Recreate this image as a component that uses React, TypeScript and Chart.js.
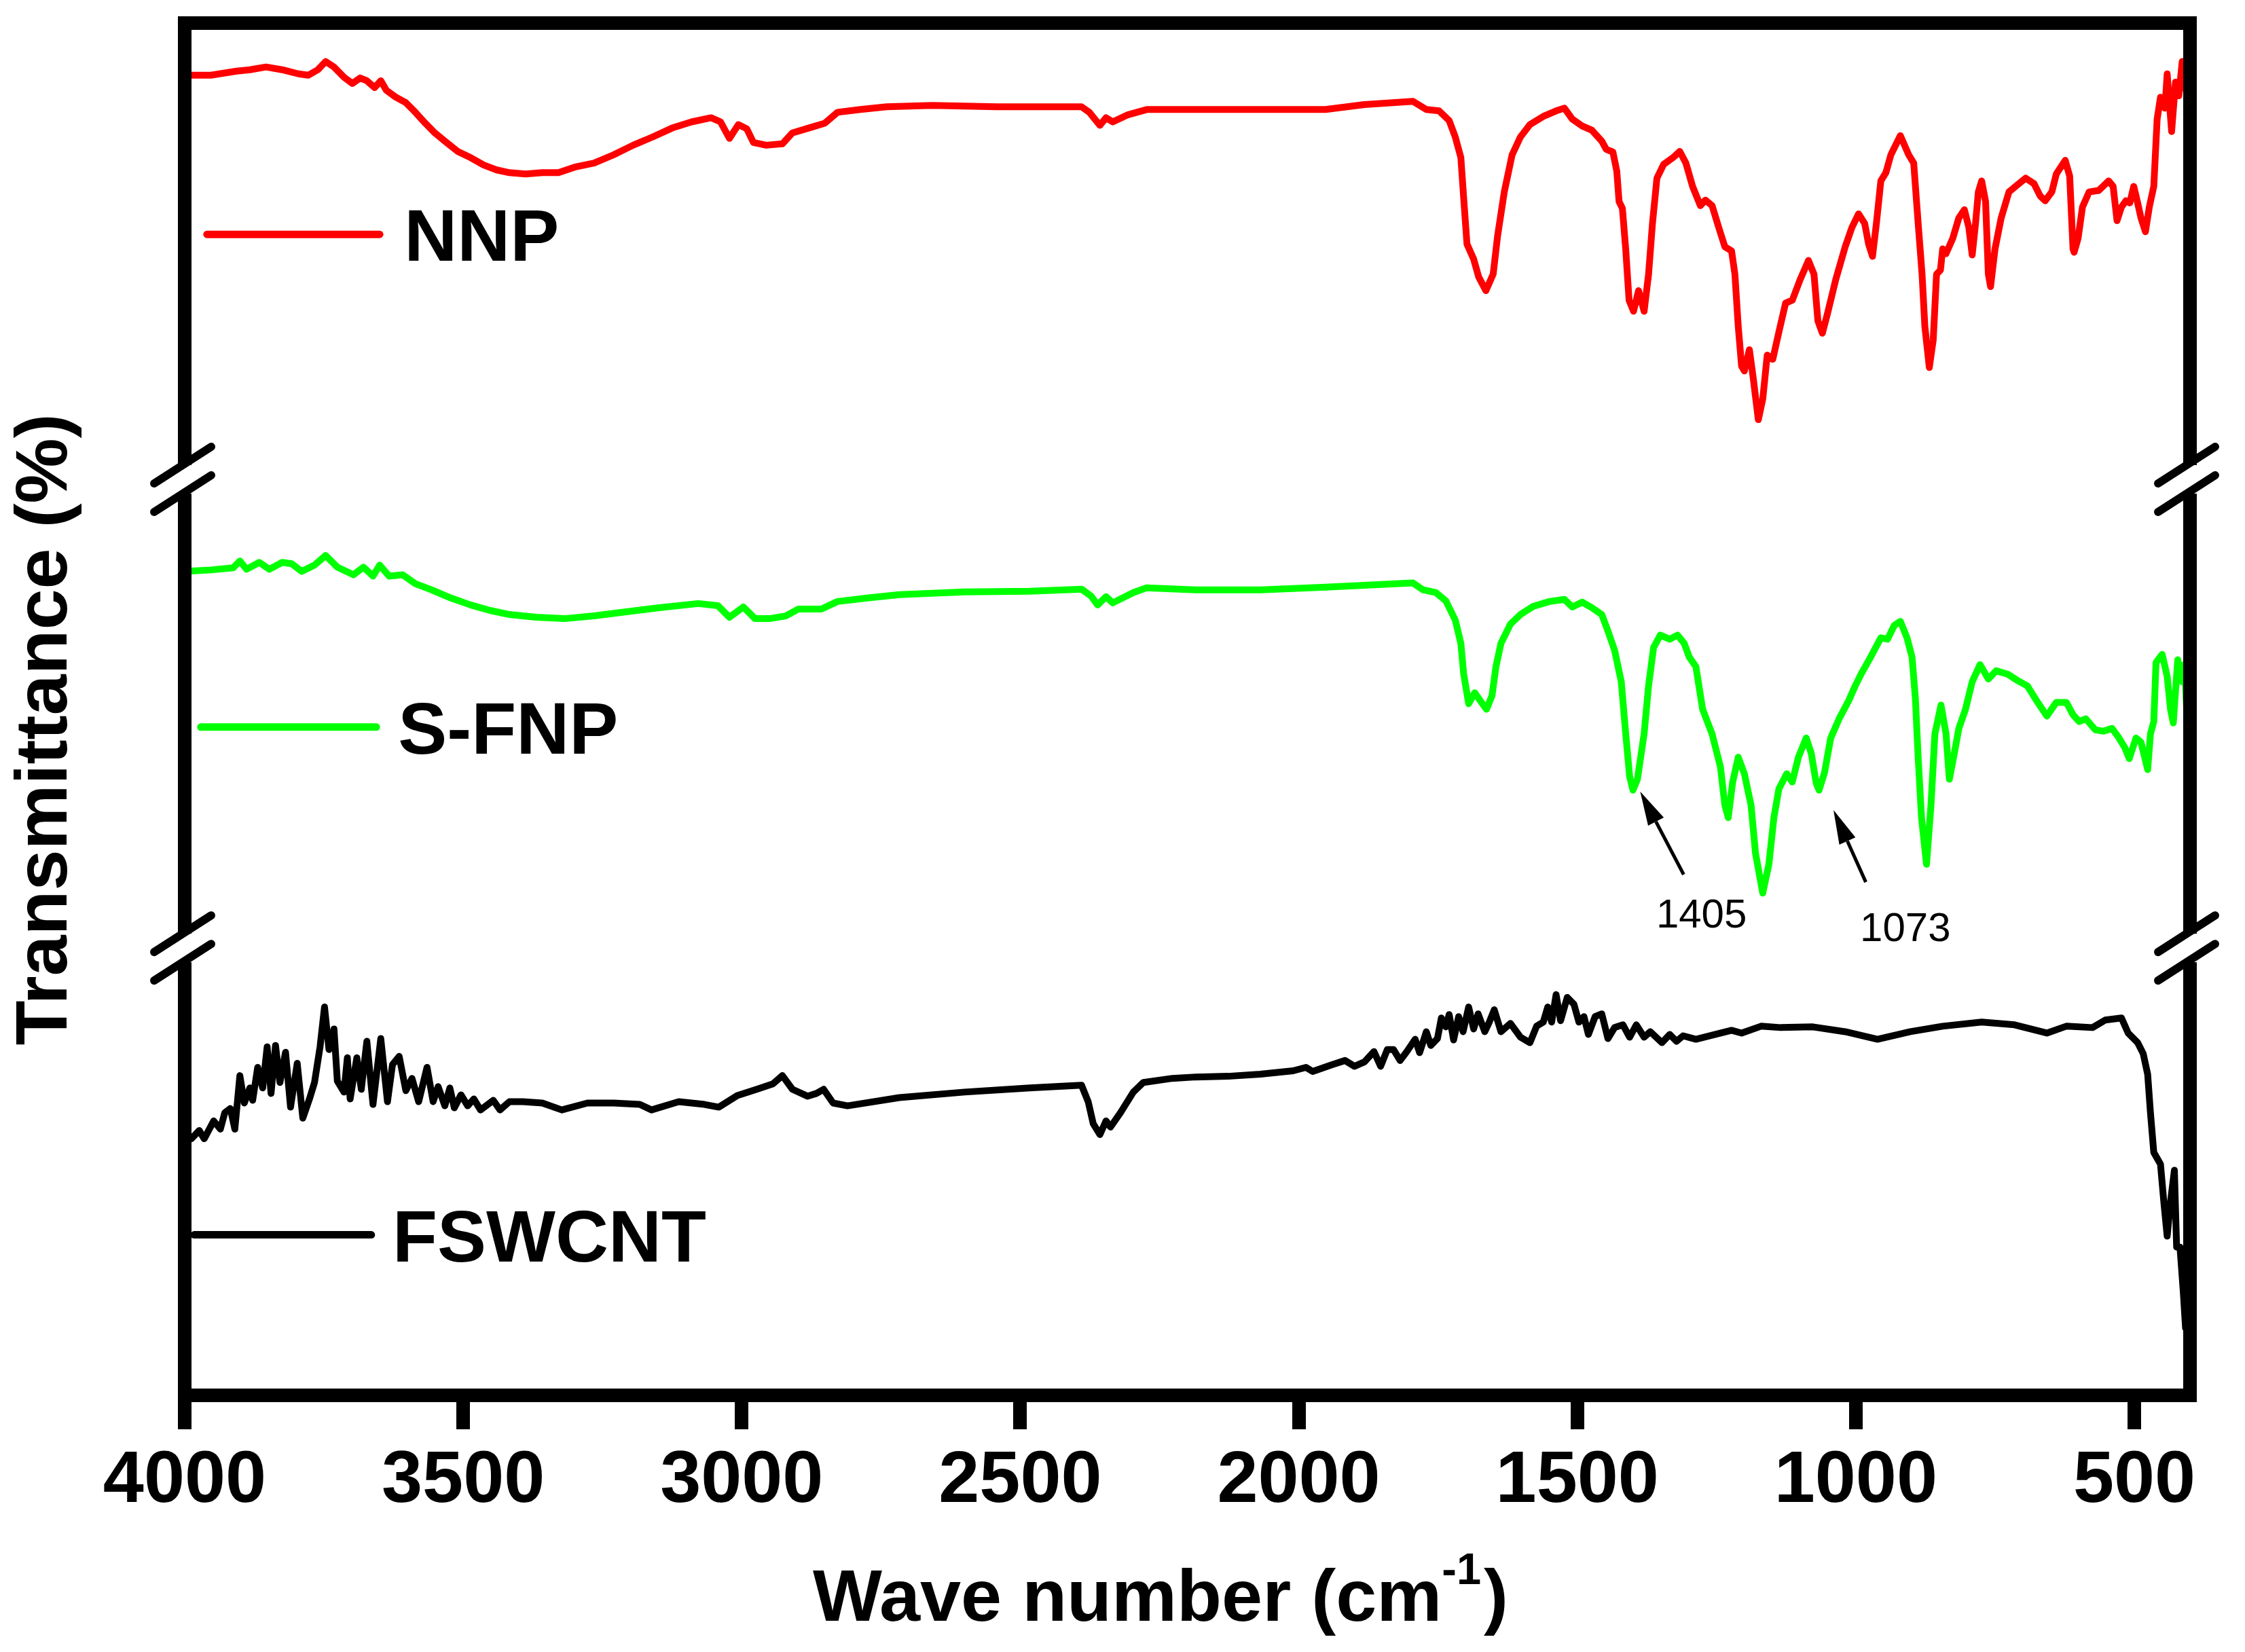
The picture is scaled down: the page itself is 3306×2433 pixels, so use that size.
import { useRef, useEffect } from 'react'
import { Chart, registerables } from 'chart.js'
Chart.register(...registerables)

// wavenumber axis (cm-1), drawn right to left
const X_MIN = 400
const X_MAX = 4000
const X_TICKS = [500, 1000, 1500, 2000, 2500, 3000, 3500, 4000]

// stacked transmittance, arbitrary offset units (0 = bottom of frame, 100 = top)
const nnpWn = [
  4000, 3953, 3907, 3883, 3854, 3825, 3796, 3778, 3761, 3747, 3732, 3714, 3699, 3685, 3673, 3659, 3648, 3638, 3621, 3603,
  3586, 3568, 3551, 3533, 3510, 3487, 3463, 3440, 3417, 3388, 3358, 3329, 3300, 3265, 3230, 3195, 3160, 3125, 3090, 3055,
  3038, 3022, 3006, 2991, 2979, 2956, 2927, 2909, 2880, 2851, 2828, 2787, 2740, 2658, 2542, 2390, 2376, 2357, 2346, 2334,
  2308, 2273, 2227, 2185, 1952, 1882, 1795, 1771, 1748, 1730, 1719, 1709, 1704, 1698, 1686, 1677, 1664, 1651, 1643, 1631,
  1617, 1602, 1585, 1561, 1538, 1523, 1509, 1491, 1474, 1456, 1448, 1436, 1429, 1425, 1419, 1413, 1407, 1399, 1390, 1380,
  1372, 1365, 1357, 1345, 1328, 1316, 1305, 1293, 1279, 1270, 1258, 1246, 1235, 1223, 1217, 1211, 1205, 1200, 1191, 1184,
  1175, 1167, 1159, 1149, 1138, 1126, 1114, 1100, 1085, 1075, 1068, 1060, 1051, 1036, 1019, 1007, 995, 984, 977, 970,
  963, 955, 946, 937, 920, 905, 896, 888, 881, 876, 868, 861, 855, 848, 844, 838, 826, 815, 805, 797,
  791, 785, 780, 774, 767, 762, 758, 750, 739, 725, 710, 695, 680, 669, 660, 648, 640, 624, 616, 610,
  608, 601, 593, 581, 564, 546, 538, 531, 523, 515, 508, 501, 494, 488, 480, 473, 465, 459, 453, 445,
  441, 433, 426, 420, 414, 406, 402,
]
const nnpT = [
  96.2, 96.2, 96.5, 96.6, 96.8, 96.6, 96.3, 96.2, 96.6, 97.2, 96.8, 96.05, 95.6, 96.0, 95.8, 95.3, 95.8, 95.1, 94.6, 94.2,
  93.5, 92.7, 92.0, 91.4, 90.65, 90.2, 89.65, 89.3, 89.1, 89.0, 89.1, 89.1, 89.5, 89.8, 90.4, 91.1, 91.7, 92.35, 92.8, 93.1,
  92.8, 91.6, 92.6, 92.3, 91.3, 91.1, 91.2, 92.0, 92.35, 92.7, 93.5, 93.7, 93.9, 94.0, 93.9, 93.9, 93.5, 92.55, 93.1, 92.8,
  93.3, 93.7, 93.7, 93.7, 93.7, 94.06, 94.3, 93.7, 93.6, 92.9, 91.7, 90.2, 87.3, 83.9, 82.8, 81.5, 80.5, 81.7, 84.5, 87.7,
  90.4, 91.7, 92.6, 93.2, 93.6, 93.8, 93.0, 92.5, 92.2, 91.4, 90.8, 90.6, 89.2, 87.0, 86.5, 83.5, 79.8, 79.0, 80.5, 79.0,
  81.7, 85.4, 88.7, 89.7, 90.2, 90.65, 89.8, 88.1, 86.7, 87.1, 86.7, 85.1, 83.7, 83.4, 81.7, 77.9, 75.0, 74.65, 76.2, 74.1,
  71.1, 72.6, 75.8, 75.5, 77.5, 79.6, 79.8, 81.3, 82.7, 81.7, 78.3, 77.4, 78.8, 81.3, 83.7, 85.1, 86.1, 85.4, 83.9, 83.0,
  85.4, 88.5, 89.1, 90.4, 91.8, 90.4, 89.8, 85.4, 81.7, 77.9, 74.9, 76.9, 81.7, 82.0, 83.55, 83.2, 84.3, 85.8, 86.4, 85.1,
  83.1, 85.4, 87.7, 88.5, 87.0, 81.7, 80.8, 83.55, 85.8, 87.7, 88.2, 88.7, 88.3, 87.4, 87.05, 87.7, 89.0, 90.0, 88.85, 83.55,
  83.3, 84.3, 86.6, 87.7, 87.8, 88.5, 88.1, 85.6, 86.6, 87.05, 86.9, 88.1, 86.9, 85.8, 84.8, 86.6, 88.1, 93.0, 94.6, 93.8,
  96.3, 92.1, 95.7, 94.7, 97.2, 94.9, 96.0,
]

const sfnpWn = [
  4000, 3953, 3913, 3901, 3889, 3866, 3848, 3825, 3808, 3790, 3767, 3747, 3726, 3697, 3679, 3662, 3650, 3633, 3609, 3586,
  3557, 3522, 3487, 3452, 3417, 3370, 3318, 3265, 3207, 3148, 3078, 3043, 3022, 2997, 2976, 2950, 2921, 2898, 2857, 2828,
  2775, 2717, 2600, 2483, 2390, 2373, 2361, 2346, 2334, 2297, 2273, 2185, 2069, 1952, 1870, 1795, 1777, 1754, 1736, 1719,
  1709, 1704, 1695, 1684, 1672, 1663, 1653, 1646, 1637, 1620, 1602, 1579, 1550, 1523, 1509, 1491, 1474, 1456, 1445, 1433,
  1421, 1413, 1406, 1400, 1392, 1380, 1372, 1363, 1351, 1334, 1320, 1308, 1299, 1287, 1275, 1258, 1243, 1235, 1229, 1221,
  1211, 1200, 1188, 1180, 1167, 1156, 1147, 1138, 1124, 1114, 1103, 1089, 1080, 1071, 1066, 1056, 1045, 1030, 1013, 1001,
  990, 972, 955, 943, 931, 920, 908, 899, 893, 888, 882, 873, 865, 858, 847, 838, 832, 823, 815, 803,
  791, 777, 762, 748, 727, 710, 692, 675, 657, 640, 622, 610, 599, 587, 570, 555, 540, 529, 517, 509,
  497, 488, 476, 471, 465, 461, 450, 441, 435, 430, 422, 414, 410, 404,
]
const sfnpT = [
  60.05, 60.15, 60.3, 60.8, 60.2, 60.7, 60.2, 60.7, 60.6, 60.05, 60.5, 61.2, 60.35, 59.8, 60.35, 59.7, 60.5, 59.7, 59.8, 59.15,
  58.7, 58.1, 57.6, 57.2, 56.9, 56.7, 56.6, 56.8, 57.1, 57.4, 57.7, 57.55, 56.7, 57.45, 56.6, 56.6, 56.8, 57.3, 57.3, 57.85,
  58.1, 58.35, 58.55, 58.6, 58.75, 58.25, 57.6, 58.2, 57.75, 58.5, 58.85, 58.7, 58.7, 58.9, 59.05, 59.2, 58.7, 58.5, 57.9, 56.5,
  54.8, 52.6, 50.4, 51.2, 50.5, 50.0, 51.0, 53.1, 54.8, 56.2, 56.9, 57.5, 57.85, 58.0, 57.45, 57.8, 57.4, 56.9, 55.7, 54.3,
  52.0, 48.2, 45.1, 44.1, 44.9, 48.2, 51.7, 54.5, 55.4, 55.1, 55.4, 54.8, 53.8, 53.1, 50.0, 48.2, 45.8, 43.0, 42.1, 44.7,
  46.5, 45.3, 43.0, 39.5, 36.6, 38.7, 42.1, 44.2, 45.3, 44.7, 46.5, 47.9, 46.8, 44.6, 44.1, 45.4, 47.9, 49.3, 50.6, 51.7,
  52.6, 53.9, 55.2, 55.1, 56.1, 56.4, 55.2, 53.8, 50.8, 46.5, 42.1, 38.7, 43.0, 48.2, 50.3, 48.2, 44.9, 46.8, 48.6, 50.0,
  52.0, 53.25, 52.2, 52.8, 52.55, 52.1, 51.7, 50.6, 49.5, 50.5, 50.5, 49.6, 49.1, 49.3, 48.5, 48.4, 48.6, 48.0, 47.2, 46.4,
  47.9, 47.6, 45.6, 48.2, 49.1, 53.4, 54.0, 52.4, 50.0, 49.0, 53.6, 52.0, 53.25, 48.4,
]

const fswWn = [
  4000, 3988, 3974, 3965, 3948, 3936, 3928, 3918, 3910, 3901, 3893, 3883, 3878, 3869, 3860, 3852, 3845, 3837, 3829, 3819,
  3810, 3798, 3788, 3776, 3767, 3757, 3749, 3741, 3732, 3726, 3714, 3708, 3703, 3691, 3683, 3673, 3662, 3648, 3636, 3627,
  3615, 3603, 3592, 3580, 3565, 3554, 3545, 3533, 3524, 3516, 3504, 3492, 3481, 3469, 3446, 3434, 3417, 3393, 3358, 3323,
  3277, 3230, 3183, 3162, 3113, 3067, 3041, 3008, 2973, 2944, 2927, 2909, 2882, 2866, 2853, 2836, 2810, 2717, 2600, 2483,
  2390, 2378, 2369, 2357, 2346, 2338, 2320, 2297, 2279, 2227, 2185, 2127, 2069, 2010, 1987, 1975, 1940, 1917, 1900, 1882,
  1865, 1853, 1841, 1830, 1818, 1806, 1791, 1783, 1771, 1763, 1751, 1744, 1736, 1730, 1722, 1713, 1705, 1695, 1686, 1678,
  1666, 1658, 1649, 1637, 1620, 1602, 1585, 1573, 1561, 1553, 1546, 1538, 1530, 1518, 1506, 1497, 1488, 1480, 1468, 1456,
  1445, 1433, 1418, 1406, 1394, 1380, 1369, 1348, 1334, 1322, 1310, 1287, 1252, 1223, 1205, 1170, 1135, 1077, 1019, 961,
  902, 844, 774, 715, 657, 622, 575, 552, 523, 511, 494, 484, 476, 471, 465, 453, 447, 441, 435, 428,
  424, 418, 412, 408,
]
const fswT = [
  18.6, 18.7, 19.3, 18.7, 20.0, 19.4, 20.6, 20.9, 19.4, 23.3, 21.3, 22.4, 21.5, 23.9, 22.4, 25.4, 22.0, 25.5, 22.8, 25.0,
  21.0, 24.2, 20.2, 21.6, 22.8, 25.4, 28.3, 25.2, 26.7, 22.9, 22.1, 24.6, 21.6, 24.6, 22.3, 25.8, 21.2, 26.0, 21.4, 24.1,
  24.7, 22.2, 23.1, 21.4, 23.9, 21.4, 22.5, 21.1, 22.4, 20.95, 21.9, 21.1, 21.6, 20.8, 21.5, 20.8, 21.4, 21.4, 21.3, 20.8,
  21.3, 21.3, 21.2, 20.8, 21.4, 21.2, 21.0, 21.85, 22.3, 22.7, 23.3, 22.3, 21.8, 22.0, 22.3, 21.3, 21.1, 21.7, 22.1, 22.4,
  22.6, 21.4, 19.8, 19.0, 20.0, 19.55, 20.6, 22.1, 22.8, 23.1, 23.2, 23.25, 23.4, 23.65, 23.9, 23.6, 24.1, 24.4, 23.98, 24.3,
  25.05, 23.98, 25.2, 25.2, 24.4, 25.05, 25.95, 24.97, 26.5, 25.5, 26.0, 27.5, 26.85, 27.75, 25.9, 27.6, 26.5, 28.3, 26.7, 27.8,
  26.5, 27.2, 28.1, 26.5, 27.1, 26.1, 25.7, 26.9, 27.2, 28.3, 27.2, 29.2, 27.3, 29.0, 28.5, 27.2, 27.6, 26.3, 27.6, 27.8,
  26.0, 26.8, 27.0, 26.1, 27.0, 26.1, 26.5, 25.7, 26.3, 25.8, 26.2, 25.95, 26.3, 26.6, 26.4, 26.9, 26.8, 26.85, 26.5, 25.95,
  26.5, 26.9, 27.2, 27.0, 26.4, 26.9, 26.8, 27.35, 27.5, 26.4, 25.7, 24.9, 23.4, 20.6, 17.7, 16.85, 14.1, 11.6, 14.1, 16.4,
  10.8, 10.8, 7.5, 4.9,
]

const SERIES = [
  { name: 'NNP', color: '#ff0000', wn: nnpWn, t: nnpT },
  { name: 'S-FNP', color: '#00ff00', wn: sfnpWn, t: sfnpT },
  { name: 'FSWCNT', color: '#000000', wn: fswWn, t: fswT },
]

// inline legend: line from x0 to x1 (cm-1), label at xt, all at level y
const LEGEND = [
  { name: 'NNP', color: '#ff0000', x0: 3960, x1: 3650, xt: 3606, y: 84.6 },
  { name: 'S-FNP', color: '#00ff00', x0: 3971, x1: 3656, xt: 3617, y: 48.7 },
  { name: 'FSWCNT', color: '#000000', x0: 3983, x1: 3665, xt: 3627, y: 11.7 },
]

// peak callouts on S-FNP
const CALLOUTS = [
  { label: '1405', tip: [1387, 44.0], tail: [1309, 37.95], text: [1277, 34.1] },
  { label: '1073', tip: [1040, 42.65], tail: [982, 37.4], text: [911, 33.1] },
]

// axis breaks between the stacked spectra
const BREAKS = [66.75, 32.6]

const W = 3306
const H = 2433
const FONT = "'Liberation Sans', Arial, sans-serif"

const decorations = {
  id: 'decorations',
  afterDraw(chart: any) {
    const { ctx, chartArea: a } = chart
    const sx = chart.scales.x
    const sy = chart.scales.y
    const px = (v: number) => sx.getPixelForValue(v)
    const py = (v: number) => sy.getPixelForValue(v)
    ctx.save()

    // frame
    ctx.strokeStyle = '#000'
    ctx.lineWidth = 20
    ctx.lineJoin = 'miter'
    ctx.strokeRect(a.left, a.top, a.right - a.left, a.bottom - a.top)

    // breaks on both side axes
    for (const b of BREAKS) {
      const cy = py(b)
      for (const cx of [a.left - 3, a.right - 5]) {
        ctx.fillStyle = '#fff'
        ctx.fillRect(cx - 16, cy - 21, 32, 42)
        ctx.strokeStyle = '#000'
        ctx.lineWidth = 12
        ctx.lineCap = 'round'
        for (const off of [-21, 21]) {
          ctx.beginPath()
          ctx.moveTo(cx - 42, cy + off + 27)
          ctx.lineTo(cx + 42, cy + off - 27)
          ctx.stroke()
        }
      }
    }

    // legend
    ctx.font = `bold 108px ${FONT}`
    ctx.textAlign = 'left'
    ctx.textBaseline = 'alphabetic'
    for (const l of LEGEND) {
      const y = py(l.y)
      ctx.strokeStyle = l.color
      ctx.lineWidth = 11
      ctx.lineCap = 'round'
      ctx.beginPath()
      ctx.moveTo(px(l.x0), y)
      ctx.lineTo(px(l.x1), y)
      ctx.stroke()
      ctx.fillStyle = '#000'
      ctx.fillText(l.name, px(l.xt), y + 39)
    }

    // callouts
    for (const c of CALLOUTS) {
      const tx = px(c.tip[0]), ty = py(c.tip[1])
      const bx = px(c.tail[0]), by = py(c.tail[1])
      const ang = Math.atan2(ty - by, tx - bx)
      const len = 50, hw = 13
      const hx = tx - len * Math.cos(ang), hy = ty - len * Math.sin(ang)
      ctx.strokeStyle = '#000'
      ctx.lineWidth = 5
      ctx.lineCap = 'butt'
      ctx.beginPath()
      ctx.moveTo(bx, by)
      ctx.lineTo(hx, hy)
      ctx.stroke()
      ctx.fillStyle = '#000'
      ctx.beginPath()
      ctx.moveTo(tx, ty)
      ctx.lineTo(hx + hw * Math.sin(ang), hy - hw * Math.cos(ang))
      ctx.lineTo(hx - hw * Math.sin(ang), hy + hw * Math.cos(ang))
      ctx.closePath()
      ctx.fill()
      ctx.font = `60px ${FONT}`
      ctx.textAlign = 'center'
      ctx.fillText(c.label, px(c.text[0]), py(c.text[1]))
    }

    // y title
    ctx.fillStyle = '#000'
    ctx.font = `bold 108px ${FONT}`
    ctx.textAlign = 'center'
    ctx.textBaseline = 'alphabetic'
    ctx.save()
    ctx.translate(98, (a.top + a.bottom) / 2 + 30)
    ctx.rotate(-Math.PI / 2)
    ctx.fillText('Transmittance (%)', 0, 0)
    ctx.restore()

    // x title with superscript
    const main = 'Wave number (cm'
    const sup = '-1'
    const close = ')'
    const baseY = 2387
    ctx.textAlign = 'left'
    ctx.font = `bold 108px ${FONT}`
    const w1 = ctx.measureText(main).width
    const w3 = ctx.measureText(close).width
    ctx.font = `bold 65px ${FONT}`
    const w2 = ctx.measureText(sup).width
    let x = 1707 - (w1 + w2 + w3) / 2
    ctx.font = `bold 108px ${FONT}`
    ctx.fillText(main, x, baseY)
    x += w1
    ctx.font = `bold 65px ${FONT}`
    ctx.fillText(sup, x, baseY - 54)
    x += w2 + 4
    ctx.font = `bold 108px ${FONT}`
    ctx.fillText(close, x, baseY)

    ctx.restore()
  },
}

export default function App() {
  const ref = useRef<HTMLCanvasElement>(null)
  const inst = useRef<Chart | null>(null)

  useEffect(() => {
    document.body.style.margin = '0'
    document.body.style.overflow = 'hidden'
    document.body.style.background = '#fff'
    if (!ref.current) return
    inst.current?.destroy()
    inst.current = new Chart(ref.current, {
      type: 'line',
      data: {
        datasets: SERIES.map(s => ({
          label: s.name,
          data: s.wn.map((w, i) => ({ x: w, y: s.t[i] })),
          borderColor: s.color,
          borderWidth: 10,
          borderJoinStyle: 'round' as const,
          borderCapStyle: 'round' as const,
          pointRadius: 0,
          tension: 0,
          fill: false,
        })),
      },
      options: {
        responsive: false,
        devicePixelRatio: 1,
        animation: false,
        events: [],
        layout: { padding: { left: 272, right: 81, top: 34, bottom: 0 } },
        plugins: { legend: { display: false }, tooltip: { enabled: false } },
        scales: {
          x: {
            type: 'linear',
            reverse: true,
            min: X_MIN,
            max: X_MAX,
            afterBuildTicks: (s: any) => { s.ticks = X_TICKS.map(v => ({ value: v })) },
            afterFit: (s: any) => { s.height = H - 2055 },
            border: { display: false },
            grid: { drawOnChartArea: false, drawTicks: true, tickLength: 50, lineWidth: 20, color: '#000' },
            ticks: {
              color: '#000',
              padding: 12,
              maxRotation: 0,
              autoSkip: false,
              font: { family: FONT, size: 108, weight: 'bold' },
              callback: (v: any) => String(v),
            },
          },
          y: { type: 'linear', min: 0, max: 100, display: false },
        },
      },
      plugins: [decorations],
    })
    return () => inst.current?.destroy()
  }, [])

  return (
    <div style={{ width: W, height: H, background: '#fff' }}>
      <canvas ref={ref} width={W} height={H} style={{ display: 'block', width: W, height: H }} />
    </div>
  )
}
